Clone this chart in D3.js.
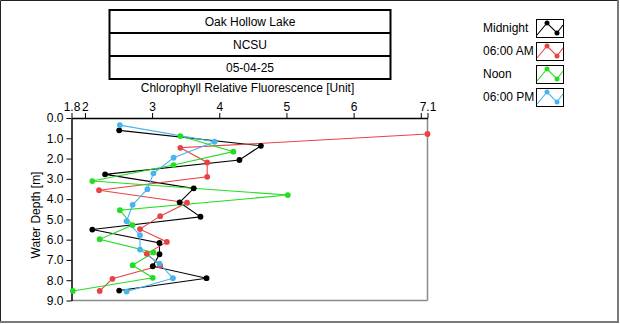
<!DOCTYPE html>
<html>
<head>
<meta charset="utf-8">
<script src="https://cdn.jsdelivr.net/npm/d3@7"></script>
<style>
  body { margin: 0; background: #fff; }
  svg { display: block; }
  text { font-family: "Liberation Sans", Arial, sans-serif; font-size: 12px; fill: #000; }
</style>
</head>
<body>
<svg id="chart" width="620" height="324"></svg>
<script>
// Header rows
const titleLines = ["Oak Hollow Lake", "NCSU", "05-04-25"];

// Series names and colours
const seriesNames = ["Midnight", "06:00 AM", "Noon", "06:00 PM"];
const seriesColors = ["#000000", "#e64444", "#22dd22", "#48b4ec"];

// Profiles: fluorescence value vs. water depth [m]
const midnightValue = [2.51, 4.62, 4.30, 2.30, 3.62, 3.41, 3.72, 2.11, 3.11, 3.11, 3.01, 3.81, 2.51];
const midnightDepth = [0.61, 1.37, 2.07, 2.78, 3.47, 4.16, 4.87, 5.50, 6.16, 6.72, 7.31, 7.90, 8.51];

const morningValue = [7.10, 3.42, 3.82, 3.82, 2.21, 3.52, 3.12, 2.82, 3.22, 2.92, 3.12, 2.41, 2.22];
const morningDepth = [0.79, 1.47, 2.19, 2.90, 3.56, 4.18, 4.84, 5.48, 6.11, 6.70, 7.27, 7.93, 8.53];

const noonValue = [3.42, 4.21, 3.32, 2.11, 5.02, 2.52, 2.71, 2.22, 3.02, 2.71, 3.01, 1.82];
const noonDepth = [0.89, 1.66, 2.32, 3.11, 3.80, 4.55, 5.28, 5.98, 6.63, 7.26, 7.88, 8.53];

const eveningValue = [2.52, 3.93, 3.32, 3.02, 2.93, 2.71, 2.62, 2.82, 2.82, 3.11, 3.31, 2.62];
const eveningDepth = [0.35, 1.17, 1.96, 2.73, 3.51, 4.28, 5.09, 5.78, 6.49, 7.18, 7.90, 8.56];

// Axis ticks
const xTicks = [1.8, 2, 3, 4, 5, 6, 7, 7.1];
const xTickLabels = ["1.8", "2", "3", "4", "5", "6", "", "7.1"];
const yTicks = [0, 1, 2, 3, 4, 5, 6, 7, 8, 9];

const xTitle = "Chlorophyll Relative Fluorescence [Unit]";
const yTitle = "Water Depth [m]";

const seriesValues = [midnightValue, morningValue, noonValue, eveningValue];
const seriesDepths = [midnightDepth, morningDepth, noonDepth, eveningDepth];
const series = seriesNames.map((name, i) => ({
  name,
  color: seriesColors[i],
  points: seriesValues[i].map((v, j) => ({ v, d: seriesDepths[i][j] }))
}));

const svg = d3.select("#chart");

// Window frame: dark top/left edge, grey shadow right/bottom
svg.append("rect").attr("x", 0).attr("y", 0).attr("width", 620).attr("height", 324).attr("fill", "#fff");
svg.append("line").attr("x1", 0.5).attr("y1", 0.5).attr("x2", 617).attr("y2", 0.5).attr("stroke", "#222");
svg.append("line").attr("x1", 0.5).attr("y1", 0.5).attr("x2", 0.5).attr("y2", 321).attr("stroke", "#222");
svg.append("rect").attr("x", 617).attr("y", 0).attr("width", 2).attr("height", 323).attr("fill", "#7a7a7a");
svg.append("rect").attr("x", 0).attr("y", 321).attr("width", 619).attr("height", 2).attr("fill", "#7a7a7a");

// Header box
const hb = { x: 109.5, y: 10, w: 281, rowH: 23 };
const header = svg.append("g");
header.append("rect")
  .attr("x", hb.x).attr("y", hb.y).attr("width", hb.w).attr("height", hb.rowH * 3)
  .attr("fill", "#fff").attr("stroke", "#000").attr("stroke-width", 2);
titleLines.forEach((t, i) => {
  if (i > 0) {
    header.append("line")
      .attr("x1", hb.x).attr("x2", hb.x + hb.w)
      .attr("y1", hb.y + hb.rowH * i).attr("y2", hb.y + hb.rowH * i)
      .attr("stroke", "#000").attr("stroke-width", 2);
  }
  header.append("text")
    .attr("x", hb.x + hb.w / 2).attr("y", hb.y + hb.rowH * i + hb.rowH / 2 + 4)
    .attr("text-anchor", "middle").text(t);
});

// Plot scales
const x = d3.scaleLinear().domain([1.8, 7.1]).range([71.5, 427.5]);
const y = d3.scaleLinear().domain([0, 9]).range([118, 300.5]);

// Plot background and frame
svg.append("rect").attr("x", x(1.8)).attr("y", y(0))
  .attr("width", x(7.1) - x(1.8)).attr("height", y(9) - y(0)).attr("fill", "#fff");
svg.append("line").attr("x1", x(7.1)).attr("x2", x(7.1)).attr("y1", y(0)).attr("y2", y(9))
  .attr("stroke", "#8a8a8a").attr("stroke-width", 1.5);
svg.append("line").attr("x1", x(1.8)).attr("x2", x(7.1)).attr("y1", y(9)).attr("y2", y(9))
  .attr("stroke", "#8a8a8a").attr("stroke-width", 1.5);

// Axes
const xAxis = d3.axisTop(x).tickValues(xTicks)
  .tickFormat((d, i) => xTickLabels[i]).tickSize(5).tickSizeOuter(0).tickPadding(2);
const gx = svg.append("g").attr("transform", `translate(0,${y(0)})`).call(xAxis);

const yAxis = d3.axisLeft(y).tickValues(yTicks)
  .tickFormat(d3.format(".1f")).tickSize(5).tickSizeOuter(0).tickPadding(3);
const gy = svg.append("g").attr("transform", `translate(${x(1.8)},0)`).call(yAxis);

[gx, gy].forEach(g => {
  g.select(".domain").attr("stroke", "#000").attr("stroke-width", 1.5);
  g.selectAll(".tick line").attr("stroke", "#000");
  g.selectAll(".tick text").attr("fill", "#000")
    .style("font-family", "\"Liberation Sans\", Arial, sans-serif").style("font-size", "12px");
});

// Axis titles
svg.append("text").attr("x", 247.5).attr("y", 92).attr("text-anchor", "middle").text(xTitle);
svg.append("text")
  .attr("transform", `translate(40,215) rotate(-90)`)
  .attr("text-anchor", "middle").text(yTitle);

// Profiles
const line = d3.line().x(p => x(p.v)).y(p => y(p.d));
const plot = svg.append("g");
series.forEach(s => {
  plot.append("path").datum(s.points)
    .attr("fill", "none").attr("stroke", s.color).attr("stroke-width", 1.1).attr("d", line);
});
series.forEach(s => {
  plot.selectAll(null).data(s.points).enter().append("circle")
    .attr("cx", p => x(p.v)).attr("cy", p => y(p.d)).attr("r", 2.9).attr("fill", s.color);
});

// Legend
const legend = svg.append("g");
const iconPts = [[1, 16], [11, 4], [21, 14], [27, 6]];
series.forEach((s, i) => {
  const top = 19 + i * 23;
  legend.append("text").attr("x", 483).attr("y", top + 13).text(s.name);
  const box = legend.append("g").attr("transform", `translate(536,${top})`);
  box.append("rect").attr("x", 0.5).attr("y", 0.5).attr("width", 27).attr("height", 18)
    .attr("fill", "#fff").attr("stroke", "#000");
  box.append("path").attr("d", d3.line()(iconPts))
    .attr("fill", "none").attr("stroke", s.color).attr("stroke-width", 1.1);
  box.selectAll(null).data(iconPts.slice(1, 3)).enter().append("circle")
    .attr("cx", p => p[0]).attr("cy", p => p[1]).attr("r", 2.5).attr("fill", s.color);
});
</script>
</body>
</html>
